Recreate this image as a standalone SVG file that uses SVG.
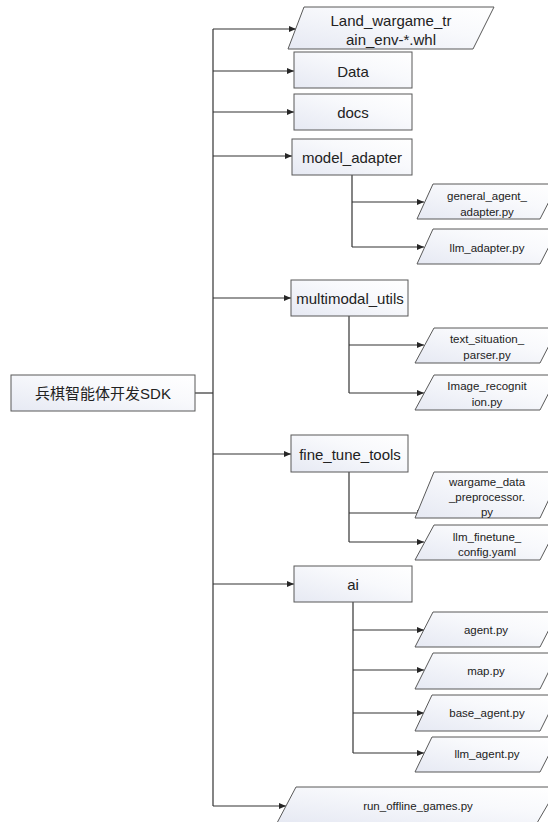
<svg xmlns="http://www.w3.org/2000/svg" width="548" height="822" viewBox="0 0 548 822">
<defs>
<linearGradient id="fill" x1="0" y1="1" x2="1" y2="0">
<stop offset="0" stop-color="#e6e9f3"/>
<stop offset="0.6" stop-color="#f8f9fc"/>
<stop offset="1" stop-color="#ffffff"/>
</linearGradient>
<marker id="arr" markerWidth="8" markerHeight="8" refX="7" refY="4" orient="auto" markerUnits="userSpaceOnUse">
<path d="M0,1 L7,4 L0,7 Z" fill="#262626"/>
</marker>
<style>
.box{fill:url(#fill);stroke:#595959;stroke-width:1}
.t{font-family:"Liberation Sans","Noto Sans CJK SC",sans-serif;fill:#222222;text-anchor:middle;dominant-baseline:central}
.m{font-size:15px}
.s{font-size:11.5px}
.c{fill:none;stroke:#333333;stroke-width:1.2}
.a{marker-end:url(#arr)}
</style>
</defs>
<rect width="548" height="822" fill="#ffffff"/>
<g id="connectors">
<path class="c" d="M195,393 H213"/>
<path class="c" d="M213,29 V806"/>
<path class="c a" d="M213,29 H296"/>
<path class="c a" d="M213,71 H294"/>
<path class="c a" d="M213,112 H294"/>
<path class="c a" d="M213,156 H292"/>
<path class="c a" d="M213,298 H291"/>
<path class="c a" d="M213,454 H291"/>
<path class="c a" d="M213,584 H294"/>
<path class="c a" d="M213,806 H286"/>
<path class="c" d="M352,175 V247"/>
<path class="c a" d="M352,202 H424"/>
<path class="c a" d="M352,247 H424"/>
<path class="c" d="M349,316 V393"/>
<path class="c a" d="M349,345 H424"/>
<path class="c a" d="M349,393 H424"/>
<path class="c" d="M349,472 V542"/>
<path class="c a" d="M349,513 H424"/>
<path class="c a" d="M349,542 H424"/>
<path class="c" d="M353,602 V753"/>
<path class="c a" d="M353,630 H424"/>
<path class="c a" d="M353,670 H424"/>
<path class="c a" d="M353,713 H424"/>
<path class="c a" d="M353,753 H424"/>
</g>
<g id="root">
<rect class="box" x="11" y="375" width="184" height="36"/>
<text class="t m" x="103" y="393">兵棋智能体开发SDK</text>
</g>
<g id="land_wargame">
<polygon class="box" points="304,7 494,7 473,49 288,49"/>
<text class="t m" x="391" y="20">Land_wargame_tr</text>
<text class="t m" x="391" y="39">ain_env-*.whl</text>
</g>
<g id="data">
<rect class="box" x="294" y="52" width="118" height="36"/>
<text class="t m" x="353" y="71">Data</text>
</g>
<g id="docs">
<rect class="box" x="294" y="94" width="118" height="36"/>
<text class="t m" x="353" y="112">docs</text>
</g>
<g id="model_adapter">
<rect class="box" x="292" y="139" width="120" height="36"/>
<text class="t m" x="352" y="157">model_adapter</text>
</g>
<g id="general_agent_adapter">
<polygon class="box" points="433,184 558,184 540,219 417,219"/>
<text class="t s" x="487" y="196">general_agent_</text>
<text class="t s" x="487" y="212">adapter.py</text>
</g>
<g id="llm_adapter">
<polygon class="box" points="433,229 558,229 540,264 417,264"/>
<text class="t s" x="487" y="248">llm_adapter.py</text>
</g>
<g id="multimodal_utils">
<rect class="box" x="291" y="280" width="117" height="36"/>
<text class="t m" x="350" y="298">multimodal_utils</text>
</g>
<g id="text_situation_parser">
<polygon class="box" points="434,328 558,328 540,363 415,363"/>
<text class="t s" x="487" y="339">text_situation_</text>
<text class="t s" x="487" y="355">parser.py</text>
</g>
<g id="image_recognition">
<polygon class="box" points="434,375 558,375 540,410 415,410"/>
<text class="t s" x="487" y="386">Image_recognit</text>
<text class="t s" x="487" y="402">ion.py</text>
</g>
<g id="fine_tune_tools">
<rect class="box" x="291" y="435" width="117" height="37"/>
<text class="t m" x="350" y="454">fine_tune_tools</text>
</g>
<g id="wargame_data_preprocessor">
<polygon class="box" points="434,472 562,472 540,518 415,518"/>
<text class="t s" x="487" y="482">wargame_data</text>
<text class="t s" x="487" y="497">_preprocessor.</text>
<text class="t s" x="487" y="512">py</text>
</g>
<g id="llm_finetune_config">
<polygon class="box" points="434,525 558,525 540,560 415,560"/>
<text class="t s" x="487" y="537">llm_finetune_</text>
<text class="t s" x="487" y="552">config.yaml</text>
</g>
<g id="ai">
<rect class="box" x="294" y="566" width="118" height="36"/>
<text class="t m" x="353" y="584">ai</text>
</g>
<g id="agent">
<polygon class="box" points="433,612 558,612 540,647 415,647"/>
<text class="t s" x="486" y="630">agent.py</text>
</g>
<g id="map">
<polygon class="box" points="433,653 558,653 540,689 415,689"/>
<text class="t s" x="486" y="671">map.py</text>
</g>
<g id="base_agent">
<polygon class="box" points="432,695 558,695 540,731 415,731"/>
<text class="t s" x="487" y="713">base_agent.py</text>
</g>
<g id="llm_agent">
<polygon class="box" points="432,737 558,737 540,772 415,772"/>
<text class="t s" x="487" y="754">llm_agent.py</text>
</g>
<g id="run_offline_games">
<polygon class="box" points="296,787 558,787 537,823 277,823"/>
<text class="t s" x="418" y="806">run_offline_games.py</text>
</g>
</svg>
